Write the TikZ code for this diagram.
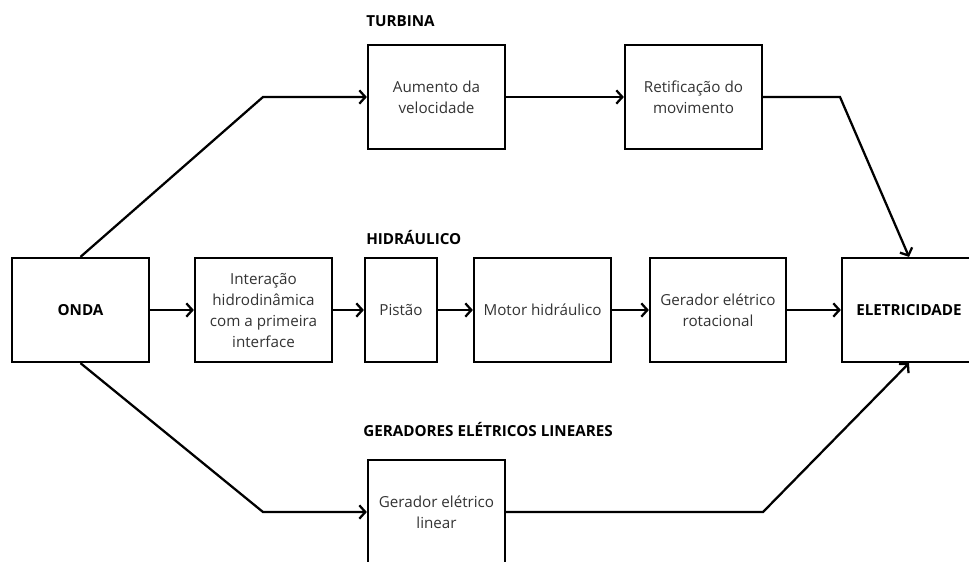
\documentclass[tikz,border=0pt]{standalone}
\usepackage{fontspec}
\setmainfont{Open Sans}
\usepackage{tikz}
\usetikzlibrary{positioning}
\usetikzlibrary{arrows.meta}
\tikzstyle{block}=[draw, line width=1.7pt, minimum height=78pt, align=center, text=black!80, font=\fontsize{11.4}{15.75}\selectfont, inner sep=2pt]
\tikzstyle{endblock}=[block, text=black, font=\fontsize{11.4}{15.75}\selectfont\bfseries]
\tikzstyle{title}=[anchor=west, inner sep=0pt, font=\fontsize{11.4}{13}\selectfont\bfseries]
\tikzstyle{line}=[line width=1.7pt]
\tikzstyle{arrow}=[line, -{Straight Barb[length=4.5pt, width=10pt]}]

\begin{document}
\begin{tikzpicture}[x=0.75pt, y=-0.75pt]
      \useasboundingbox (0,0) rectangle (969,561);

      \node[title] (tTurbina) at (366,21) {TURBINA};
      \node[title] (tHidraulico) at (366,237) {HIDRÁULICO};
      \node[title] (tLineares) at (363,429) {GERADORES ELÉTRICOS LINEARES};

      \node[endblock, minimum width=102.75pt] (onda) at (80.5,310) {ONDA};
      \node[block, minimum width=102.75pt] (interacao) at (263.5,310) {Interação\\hidrodinâmica\\com a primeira\\interface};
      \node[block, minimum width=54pt] (pistao) at (401,310) {Pistão};
      \node[block, minimum width=102.75pt] (motor) at (542.5,310) {Motor hidráulico};
      \node[block, minimum width=102pt] (geradorRot) at (718,310) {Gerador elétrico\\rotacional};
      \node[endblock, minimum width=100.5pt] (eletricidade) at (909,310) {ELETRICIDADE};
      \node[block, minimum width=102.75pt] (aumento) at (436.5,97) {Aumento da\\velocidade};
      \node[block, minimum width=102.75pt] (retificacao) at (693.5,97) {Retificação do\\movimento};
      \node[block, minimum width=102.75pt] (geradorLin) at (436.5,512) {Gerador elétrico\\linear};

      \coordinate (bendA) at (263,97);
      \coordinate (bendB) at (840,97);
      \coordinate (bendC) at (263,512);
      \coordinate (bendD) at (763,512);

      % turbina
      \draw[arrow] (onda.north) -- (bendA) -- (aumento.west);
      \draw[arrow] (aumento) -- (retificacao);
      \draw[arrow] (retificacao.east) -- (bendB) -- (eletricidade.north);

      % hidraulico
      \draw[arrow] (onda) -- (interacao);
      \draw[arrow] (interacao) -- (pistao);
      \draw[arrow] (pistao) -- (motor);
      \draw[arrow] (motor) -- (geradorRot);
      \draw[arrow] (geradorRot) -- (eletricidade);

      % lineares
      \draw[arrow] (onda.south) -- (bendC) -- (geradorLin.west);
      \draw[arrow] (geradorLin.east) -- (bendD) -- (eletricidade.south);

    \end{tikzpicture}
\end{document}
